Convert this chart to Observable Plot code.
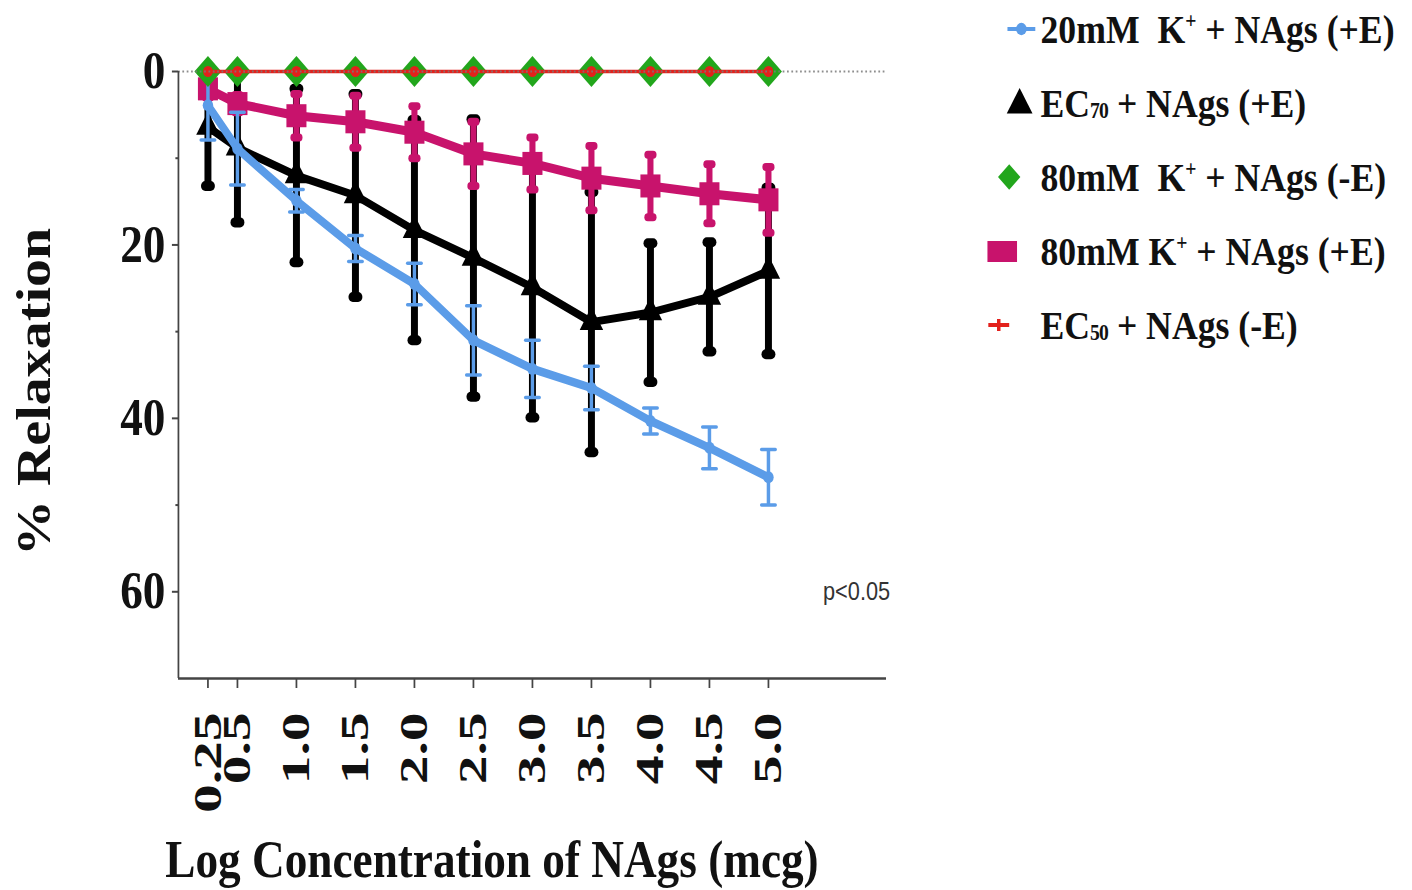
<!DOCTYPE html>
<html><head><meta charset="utf-8">
<script src="https://cdn.jsdelivr.net/npm/d3@7"></script>
<script src="https://cdn.jsdelivr.net/npm/@observablehq/plot@0.6"></script>
<style>
html,body{margin:0;padding:0;background:#fff;overflow:hidden;width:1412px;height:890px;}
#wrap{position:absolute;left:0;top:0;width:1623px;height:890px;transform:scaleX(0.87);transform-origin:0 0;}
#wrap svg.chart{position:absolute;left:0;top:0;}
.serif{font-family:"Liberation Serif","Times New Roman",serif;font-weight:bold;color:#111;white-space:nowrap;}
#xtitle{position:absolute;left:190px;top:834px;font-size:52px;line-height:52px;}
#ytitle{position:absolute;left:38px;top:392px;font-size:56px;line-height:56px;transform:translate(-50%,-50%) rotate(-90deg);}
#pval{position:absolute;left:946px;top:579px;font-family:"Liberation Sans",Arial,sans-serif;font-size:25px;line-height:25px;color:#333;}
#legend{position:absolute;left:1130px;top:-8px;}
.lrow{position:relative;height:74px;}
.lrow svg{position:absolute;top:17px;}
.lrow .ltext{position:absolute;left:66px;top:0;font-size:41px;line-height:74px;}
.lrow sup{font-size:0.55em;vertical-align:0.65em;line-height:0;}
.lrow sub{font-size:0.55em;vertical-align:-0.05em;line-height:0;letter-spacing:-1px;}
</style></head>
<body><div id="wrap">
<div id="xtitle" class="serif">Log Concentration of NAgs (mcg)</div>
<div id="ytitle" class="serif">% Relaxation</div>
<div id="pval">p&lt;0.05</div>
<div id="legend" class="serif"></div>
</div>
<script>
// ---- data ----
const conc = [0.25, 0.5, 1.0, 1.5, 2.0, 2.5, 3.0, 3.5, 4.0, 4.5, 5.0];
const concLabels = ["0.25", "0.5", "1.0", "1.5", "2.0", "2.5", "3.0", "3.5", "4.0", "4.5", "5.0"];
const yMajorTicks = [0, 20, 40, 60];
const yMinorTicks = [10, 30, 50];

const blueMean = [3.9, 8.9, 14.9, 20.4, 24.5, 31.0, 34.3, 36.5, 40.3, 43.4, 46.8];
const blueErr  = [4.0, 4.2, 1.3, 1.5, 2.4, 4.0, 3.3, 2.5, 1.5, 2.4, 3.2];
const blackMean = [6.4, 8.8, 12.0, 14.3, 18.3, 21.5, 24.9, 28.9, 27.8, 26.0, 23.0];
const blackErr  = [6.8, 8.6, 10.0, 11.7, 12.7, 16.0, 15.0, 15.0, 8.0, 6.3, 9.6];
const greenMean = [0, 0, 0, 0, 0, 0, 0, 0, 0, 0, 0];
const magentaMean = [2.0, 3.7, 5.1, 5.8, 7.0, 9.5, 10.6, 12.3, 13.2, 14.1, 14.8];
const magentaErr  = [1.0, 1.0, 2.5, 3.0, 3.0, 3.7, 3.0, 3.7, 3.6, 3.4, 3.8];
const redMean = [0, 0, 0, 0, 0, 0, 0, 0, 0, 0, 0];

const seriesNames = [
  "20mM&nbsp; K<sup>+</sup> + NAgs (+E)",
  "EC<sub>70</sub> + NAgs (+E)",
  "80mM&nbsp; K<sup>+</sup> + NAgs (-E)",
  "80mM K<sup>+</sup> + NAgs (+E)",
  "EC<sub>50</sub> + NAgs (-E)"
];
const seriesColors = ["#5b9ce8", "#000000", "#22a61c", "#c8136c", "#e3211c"];

// ---- build ----
const rows = (m, e) => conc.map((x, i) => ({x, y: m[i], lo: m[i] - (e ? e[i] : 0), hi: m[i] + (e ? e[i] : 0)}));
const blue = rows(blueMean, blueErr);
const black = rows(blackMean, blackErr);
const green = rows(greenMean);
const magenta = rows(magentaMean, magentaErr);
const red = rows(redMean);

const cap = (w) => ({draw(ctx) { ctx.moveTo(-w, 0); ctx.lineTo(w, 0); }});

function seriesMarks(data, c, o) {
  return [
    Plot.ruleX(data, {x: "x", y1: "lo", y2: "hi", stroke: c, strokeWidth: o.bar}),
    Plot.dot(data, {x: "x", y: "lo", symbol: cap(o.cap), r: 3, fill: "none", stroke: c, strokeWidth: o.capW, strokeLinecap: "round"}),
    Plot.dot(data, {x: "x", y: "hi", symbol: cap(o.cap), r: 3, fill: "none", stroke: c, strokeWidth: o.capW, strokeLinecap: "round"}),
    Plot.line(data, {x: "x", y: "y", stroke: c, strokeWidth: o.line, strokeLinejoin: "round", strokeLinecap: "round"}),
    Plot.dot(data, {x: "x", y: "y", symbol: o.symbol, r: o.r, fill: c})
  ];
}

const W = 1623, H = 830;
const chart = Plot.plot({
  width: W, height: H,
  marginLeft: 204.6, marginRight: 604.6, marginTop: 71, marginBottom: 152,
  x: {domain: [0, 6], label: null},
  y: {domain: [0, 70], reverse: true, label: null},
  style: {fontFamily: '"Liberation Serif", "Times New Roman", serif', fontWeight: "bold", color: "#111", background: "transparent", overflow: "visible"},
  marks: [
    ...seriesMarks(black, seriesColors[1], {bar: 8, cap: 3, capW: 10, line: 8, symbol: "triangle", r: 10}),
    ...seriesMarks(magenta, seriesColors[3], {bar: 7, cap: 3, capW: 8, line: 9, symbol: "square", r: 13}),
    ...seriesMarks(blue, seriesColors[0], {bar: 4, cap: 8, capW: 3.5, line: 8.5, symbol: "circle", r: 6}),
    Plot.line(green, {x: "x", y: "y", stroke: seriesColors[2], strokeWidth: 3}),
    Plot.dot(green, {x: "x", y: "y", symbol: "diamond2", r: 14, fill: seriesColors[2]}),
    Plot.line(red, {x: "x", y: "y", stroke: seriesColors[4], strokeWidth: 3.5}),
    Plot.dot(red, {x: "x", y: "y", symbol: "circle", r: 5.5, fill: seriesColors[4]}),
    Plot.ruleY([0], {stroke: "#7a7a7a", strokeWidth: 2, strokeDasharray: "2,3", strokeOpacity: 0.85}),
    Plot.ruleX([0], {stroke: "#444", strokeWidth: 2}),
    Plot.ruleY([70], {stroke: "#444", strokeWidth: 2.5}),
    Plot.axisY({ticks: yMajorTicks, tickSize: 7, tickPadding: 8, fontSize: 52, color: "#111", stroke: "#444", strokeWidth: 2, label: null}),
    Plot.axisY({ticks: yMinorTicks, tickSize: 3, tickFormat: () => "", stroke: "#444", strokeWidth: 2, label: null}),
    Plot.axisX({ticks: conc, tickFormat: d => concLabels[conc.indexOf(d)], tickRotate: -90, tickSize: 10, tickPadding: 24, fontSize: 46, color: "#111", stroke: "#444", strokeWidth: 2, label: null})
  ]
});
chart.classList.add("chart");
document.getElementById("wrap").appendChild(chart);
// stretch the rotated x tick labels along their length
d3.select(chart).selectAll('g[aria-label="x-axis tick label"] text').each(function() {
  const t = this.getAttribute("transform") || "";
  this.setAttribute("transform", t + " scale(1.25,1)");
});

// ---- legend ----
const legendSymbols = [
  {sym: d3.symbolCircle, size: 120, line: true, dx: 12},
  {sym: d3.symbolTriangle, size: 380, line: false, dx: 10},
  {sym: d3.symbolDiamond2, size: 420, line: false, dx: -2},
  {sym: d3.symbolSquare, size: 0, rect: true, dx: -10},
  {sym: d3.symbolCross, size: 80, line: true, short: true, dx: -14}
];
const legend = d3.select("#legend");
seriesNames.forEach((name, i) => {
  const row = legend.append("div").attr("class", "lrow");
  const L = legendSymbols[i];
  const s = row.append("svg").attr("width", 64).attr("height", 40).style("left", L.dx + "px");
  const cx = 32, cy = 20, c = seriesColors[i];
  if (L.line) {
    const hw = L.short ? 12 : 16;
    s.append("line").attr("x1", cx - hw).attr("x2", cx + hw).attr("y1", cy).attr("y2", cy)
      .attr("stroke", c).attr("stroke-width", 4);
  }
  if (L.rect) {
    s.append("rect").attr("x", cx - 17).attr("y", cy - 10).attr("width", 34).attr("height", 21).attr("fill", c);
  } else {
    s.append("path").attr("transform", `translate(${cx},${cy + (L.sym === d3.symbolTriangle ? 2 : 0)})`)
      .attr("d", d3.symbol(L.sym, L.size)()).attr("fill", c);
  }
  row.append("div").attr("class", "ltext").html(name);
});
</script>
</body></html>
